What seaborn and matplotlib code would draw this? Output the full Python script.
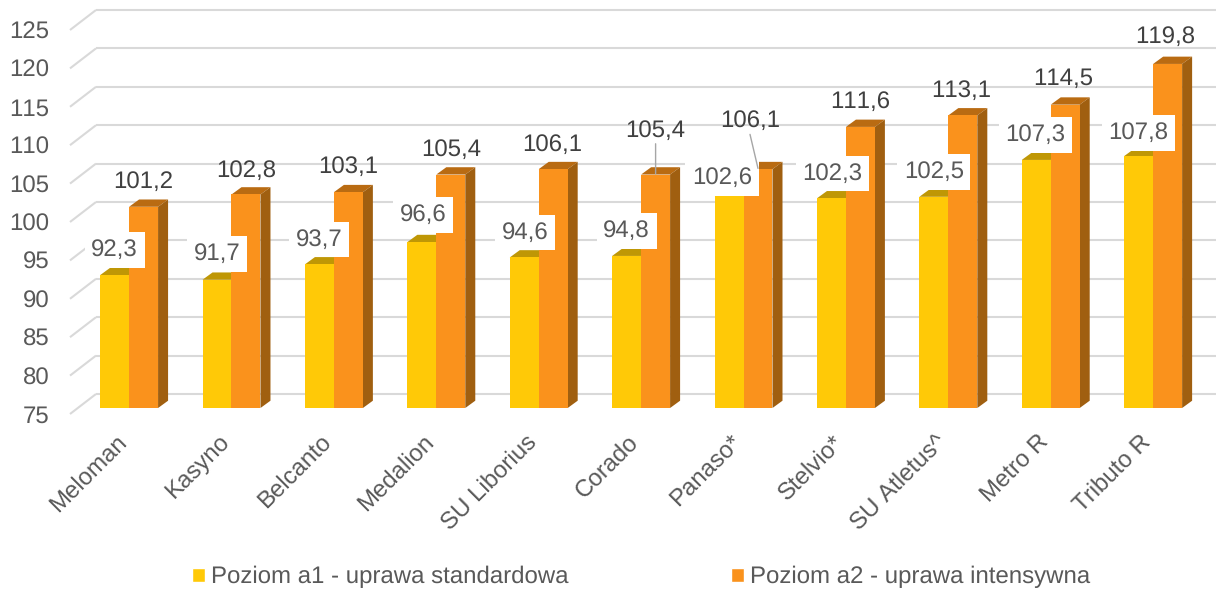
import matplotlib
matplotlib.use('Agg')
import matplotlib.pyplot as plt
from matplotlib.patches import Patch, Polygon
from matplotlib.transforms import Affine2D, ScaledTranslation
import pandas as pd
import seaborn as sns

varieties = ['Meloman', 'Kasyno', 'Belcanto', 'Medalion', 'SU Liborius', 'Corado',
             'Panaso*', 'Stelvio*', 'SU Atletus^', 'Metro R', 'Tributo R']
level_a1 = [92.3, 91.7, 93.7, 96.6, 94.6, 94.8, 102.6, 102.3, 102.5, 107.3, 107.8]
level_a2 = [101.2, 102.8, 103.1, 105.4, 106.1, 105.4, 106.1, 111.6, 113.1, 114.5, 119.8]
name_a1 = 'Poziom a1 - uprawa standardowa'
name_a2 = 'Poziom a2 - uprawa intensywna'
y_ticks = list(range(75, 130, 5))

# label offsets from the top of the bar, in pixels
a1_offsets = [(0, 25), (0, 26), (0, 25), (1, 27), (1, 25), (0, 25),
              (-7, 18), (1, 25), (0, 25), (-1, 25), (0, 23)]
a2_offsets = [(0, 25), (0, 24), (0, 25), (0, 25), (-1, 24), (0, 44),
              (-8, 48), (0, 25), (-2, 25), (-2, 26), (-2, 27)]

W, H = 1219, 589
FONT_SIZE = 17
YELLOW, YELLOW_TOP = '#FFC907', '#BF9705'
ORANGE, ORANGE_TOP, ORANGE_SIDE = '#FA921C', '#B96B12', '#A05F10'
GRID = '#D9D9D9'

sns.set_style('white')
plt.rcParams['font.family'] = ['Liberation Sans', 'DejaVu Sans']
plt.rcParams['text.hinting'] = 'no_hinting'
plt.rcParams['text.hinting_factor'] = 1
# the reference has no kerning in "111,6"
plt.rcParams['text.kerning_factor'] = 10

fig = plt.figure(figsize=(W / 100, H / 100), dpi=100)
# axes run from x=70 to x=1190 px, 75 at y=408 px and 125 at y=24 px
ax = fig.add_axes([70 / W, 1 - 408 / H, 1120 / W, 384 / H])

df = pd.DataFrame({
    'odmiana': varieties * 2,
    'plon': level_a1 + level_a2,
    'poziom': [name_a1] * len(varieties) + [name_a2] * len(varieties),
})
sns.barplot(data=df, x='odmiana', y='plon', hue='poziom', palette=[YELLOW, ORANGE],
            width=0.566, gap=0, saturation=1, legend=False, ax=ax, zorder=3,
            linewidth=0, edgecolor='none')

ax.set_xlim(-0.577, 10.36)
ax.set_ylim(75, 125)
ax.set_xlabel('')
ax.set_ylabel('')
sns.despine(ax=ax, left=True, bottom=True, top=True, right=True)
ax.set_yticks(y_ticks)

# floor and back wall lines
front = Affine2D().translate(0, -6)
for tick in y_ticks:
    p0 = ax.get_yaxis_transform().transform((0, tick))
    p1 = ax.get_yaxis_transform().transform((1, tick))
    ax.plot([p0[0], p0[0] + 26], [p0[1] - 6, p0[1] + 14], transform=None,
            color=GRID, lw=1.5, zorder=1, clip_on=False, solid_capstyle='butt')
    ax.plot([p0[0] + 26, p1[0] + 26], [p0[1] + 14, p1[1] + 14], transform=None,
            color=GRID, lw=1.5, zorder=1, clip_on=False, solid_capstyle='butt')

# depth of the 3D bars in data units
depth_x = 10 / 102.4
depth_y = 7.3 / 7.68


def add_depth(bar, top_color, side_color=None):
    x0, x1 = bar.get_x(), bar.get_x() + bar.get_width()
    top = bar.get_height()
    ax.add_patch(Polygon([(x0, top), (x1, top), (x1 + depth_x, top + depth_y), (x0 + depth_x, top + depth_y)],
                         closed=True, facecolor=top_color, edgecolor='none', zorder=2.5, clip_on=False))
    if side_color:
        ax.add_patch(Polygon([(x1, 75), (x1, top), (x1 + depth_x, top + depth_y), (x1 + depth_x, 75 + depth_y)],
                             closed=True, facecolor=side_color, edgecolor='none', zorder=2.5, clip_on=False))


for bar in ax.containers[0]:
    add_depth(bar, YELLOW_TOP)
for bar in ax.containers[1]:
    add_depth(bar, ORANGE_TOP, ORANGE_SIDE)

# data labels, the a1 ones sit on white boxes
for bar, val, off in zip(ax.containers[0], level_a1, a1_offsets):
    ax.annotate(f'{val:.1f}'.replace('.', ','), (bar.get_x() + bar.get_width() / 2, val),
                xytext=(off[0] * 0.72, off[1] * 0.72), textcoords='offset points',
                ha='center', va='center', fontsize=FONT_SIZE, color='#595959', zorder=5,
                bbox=dict(boxstyle='square,pad=0.28', facecolor='white', edgecolor='none'))
for bar, val, off in zip(ax.containers[1], level_a2, a2_offsets):
    center = bar.get_x() + bar.get_width() / 2
    ax.annotate(f'{val:.1f}'.replace('.', ','), (center, val),
                xytext=(off[0] * 0.72, off[1] * 0.72), textcoords='offset points',
                ha='center', va='center', fontsize=FONT_SIZE, color='#404040', zorder=7)
    # Corado and Panaso have leader lines
    if off[1] > 30:
        ax.annotate('', (center, val + 0.1), xytext=(off[0] * 0.72, (off[1] - 14) * 0.72),
                    textcoords='offset points', zorder=6,
                    arrowprops=dict(arrowstyle='-', color='#A6A6A6', lw=1, shrinkA=0, shrinkB=0))

# tick labels
ax.tick_params(axis='y', length=0, pad=15, labelsize=FONT_SIZE, labelcolor='#595959')
for label in ax.get_yticklabels():
    label.set_transform(label.get_transform() + front)
ax.tick_params(axis='x', length=0, pad=22, labelsize=FONT_SIZE, labelcolor='#595959')
shift_left = ScaledTranslation(-6 / 100, 0, fig.dpi_scale_trans)
for label in ax.get_xticklabels():
    label.set_rotation(45)
    label.set_ha('right')
    label.set_va('center')
    label.set_rotation_mode('anchor')
    label.set_transform(label.get_transform() + shift_left)

handles = [Patch(facecolor=YELLOW, label=name_a1), Patch(facecolor=ORANGE, label=name_a2)]
fig.legend(handles=handles, ncol=2, frameon=False, loc='center', bbox_to_anchor=(641 / W, 1 - 577 / H),
           fontsize=17.2, labelcolor='#595959', handlelength=0.55, handleheight=0.55,
           handletextpad=0.25, columnspacing=6.8)

fig.savefig('out.png', dpi=100)
